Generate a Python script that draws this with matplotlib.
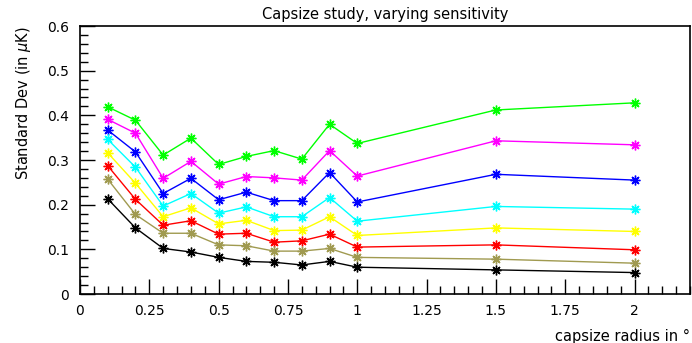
import matplotlib
matplotlib.use("Agg")
import matplotlib.pyplot as plt
from matplotlib.ticker import MultipleLocator, FixedLocator

radius = [0.1, 0.2, 0.3, 0.4, 0.5, 0.6, 0.7, 0.8, 0.9, 1.0, 1.5, 2.0]

green = [0.419, 0.389, 0.311, 0.349, 0.290, 0.308, 0.321, 0.302, 0.380, 0.337, 0.412, 0.428]
magenta = [0.391, 0.360, 0.259, 0.297, 0.246, 0.263, 0.260, 0.255, 0.321, 0.264, 0.343, 0.334]
blue = [0.367, 0.318, 0.225, 0.259, 0.211, 0.228, 0.209, 0.209, 0.272, 0.206, 0.268, 0.255]
cyan = [0.346, 0.284, 0.197, 0.225, 0.181, 0.195, 0.173, 0.173, 0.216, 0.163, 0.196, 0.190]
yellow = [0.316, 0.248, 0.173, 0.193, 0.157, 0.165, 0.142, 0.143, 0.173, 0.131, 0.148, 0.140]
red = [0.287, 0.212, 0.154, 0.164, 0.134, 0.136, 0.116, 0.119, 0.134, 0.105, 0.110, 0.099]
olive = [0.257, 0.178, 0.136, 0.136, 0.110, 0.108, 0.096, 0.096, 0.102, 0.082, 0.078, 0.069]
black = [0.213, 0.148, 0.102, 0.094, 0.082, 0.073, 0.071, 0.065, 0.073, 0.060, 0.054, 0.048]

series = [
    (green, "#00ff00"),
    (magenta, "#ff00ff"),
    (blue, "#0000ff"),
    (cyan, "#00ffff"),
    (yellow, "#ffff00"),
    (red, "#ff0000"),
    (olive, "#a09a50"),
    (black, "#000000"),
]

xticks = [0, 0.25, 0.5, 0.75, 1, 1.25, 1.5, 1.75, 2]
xticklabels = ["0", "0.25", "0.5", "0.75", "1", "1.25", "1.5", "1.75", "2"]
yticks = [0, 0.1, 0.2, 0.3, 0.4, 0.5, 0.6]
yticklabels = ["0", "0.1", "0.2", "0.3", "0.4", "0.5", "0.6"]

plt.rcParams["font.family"] = ["DejaVu Sans"]
fig = plt.figure(figsize=(6.92, 3.43), dpi=100)
ax = fig.add_axes([80 / 692, 1 - 294 / 343, 610 / 692, 268 / 343])

for vals, col in series:
    ax.plot(radius, vals, color=col, lw=1.0, marker=(8, 2, 0), ms=7, mew=1.0)

ax.set_xlim(0, 2.2)
ax.set_ylim(0, 0.6)
ax.xaxis.set_major_locator(FixedLocator(xticks))
ax.set_xticklabels(xticklabels)
ax.yaxis.set_major_locator(FixedLocator(yticks))
ax.set_yticklabels(yticklabels)
ax.xaxis.set_minor_locator(MultipleLocator(0.05))
ax.yaxis.set_minor_locator(MultipleLocator(0.02))
ax.tick_params(which="both", direction="in", top=False, right=False, labelsize=10, width=1)
ax.tick_params(which="major", length=11)
ax.tick_params(which="minor", length=5.5)
ax.tick_params(axis="x", pad=7)
ax.tick_params(axis="y", pad=8)

for s in ax.spines.values():
    s.set_linewidth(1.2)

ax.set_title("Capsize study, varying sensitivity", fontsize=10.5, pad=5)
ax.set_ylabel(r"Standard Dev (in $\mu$K)", fontsize=10.5, loc="top", labelpad=10)
ax.set_xlabel("capsize radius in °", fontsize=10.5, loc="right", labelpad=8)

fig.savefig("out.png", dpi=100)
